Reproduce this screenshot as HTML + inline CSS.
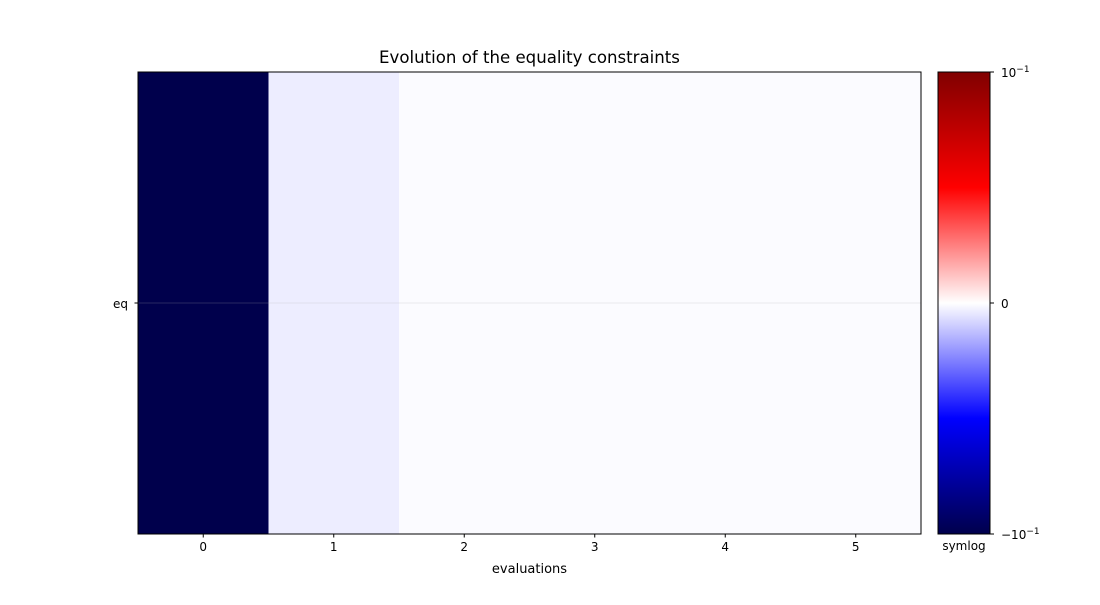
<!DOCTYPE html>
<html><head><meta charset="utf-8"><style>
body{margin:0;background:#fff;}
svg text{font-family:"DejaVu Sans","Liberation Sans",sans-serif;}
</style></head><body>
<svg id="c" width="1100" height="600" xmlns="http://www.w3.org/2000/svg">
<defs>
<linearGradient id="seis" x1="0" y1="1" x2="0" y2="0">
<stop offset="0" stop-color="#00004c"/><stop offset="0.25" stop-color="#0000ff"/>
<stop offset="0.5" stop-color="#ffffff"/><stop offset="0.75" stop-color="#ff0000"/>
<stop offset="1" stop-color="#800000"/>
</linearGradient>
</defs>
<text x="529.5" y="63" font-size="16.6" text-anchor="middle">Evolution of the equality constraints</text>
<g id="cells"></g>
<line x1="138" y1="303" x2="921" y2="303" stroke="#b0b0b0" stroke-opacity="0.3" stroke-width="0.8"/>
<rect x="138" y="72" width="783" height="462" fill="none" stroke="#000" stroke-width="1"/>
<g id="xt"></g>
<line x1="134.5" y1="303" x2="138" y2="303" stroke="#000"/>
<text x="128" y="308" font-size="12" text-anchor="end">eq</text>
<text x="529.5" y="573" font-size="13" text-anchor="middle">evaluations</text>
<rect x="938" y="72" width="52" height="462" fill="url(#seis)" stroke="#000" stroke-width="1"/>
<g id="ct"></g>
<text x="964" y="550" font-size="12" text-anchor="middle">symlog</text>
</svg>
<script>
const categories = ["eq"];
const evaluations = [0, 1, 2, 3, 4, 5];
const eqValues = [-0.1, -0.0035, -0.0008, -0.0008, -0.0008, -0.0008];
const cbarTicks = [-0.1, 0, 0.1];
const cbarBase = ["\u221210", "0", "10"];
const cbarExp = ["\u22121", "", "\u22121"];

const NS = "http://www.w3.org/2000/svg";
const px0 = 138, px1 = 921, py0 = 72, py1 = 534;
const vmin = -0.1, vmax = 0.1;
const xScale = i => px0 + (i + 0.5) * (px1 - px0) / evaluations.length;
const cw = (px1 - px0) / evaluations.length;
const cbY = v => py1 - (v - vmin) / (vmax - vmin) * (py1 - py0);
function seismic(t) {
  t = Math.max(0, Math.min(1, t));
  const st = [[0,[0,0,76]],[0.25,[0,0,255]],[0.5,[255,255,255]],[0.75,[255,0,0]],[1,[128,0,0]]];
  for (let k = 0; k < st.length - 1; k++) {
    const [a, ca] = st[k], [b, cb] = st[k+1];
    if (t <= b) { const f = (t - a) / (b - a); return "rgb(" + ca.map((c, j) => Math.round(c + (cb[j] - c) * f)).join(",") + ")"; }
  }
  return "rgb(128,0,0)";
}
const cells = document.getElementById("cells");
eqValues.forEach((v, i) => {
  const r = document.createElementNS(NS, "rect");
  r.setAttribute("x", xScale(i) - cw / 2); r.setAttribute("y", py0);
  r.setAttribute("width", cw + 0.5); r.setAttribute("height", py1 - py0);
  r.setAttribute("fill", seismic((v - vmin) / (vmax - vmin)));
  
  
  cells.appendChild(r);
});
const xt = document.getElementById("xt");
evaluations.forEach((e, i) => {
  const l = document.createElementNS(NS, "line");
  l.setAttribute("x1", xScale(i)); l.setAttribute("x2", xScale(i));
  l.setAttribute("y1", py1); l.setAttribute("y2", py1 + 3.5); l.setAttribute("stroke", "#000");
  
  
  xt.appendChild(l);
  const t = document.createElementNS(NS, "text");
  t.setAttribute("x", xScale(i)); t.setAttribute("y", py1 + 17);
  t.setAttribute("font-size", "12"); t.setAttribute("text-anchor", "middle");
  t.textContent = e;
  
  
  xt.appendChild(t);
});
const ct = document.getElementById("ct");
cbarTicks.forEach((v, i) => {
  const y = cbY(v);
  const l = document.createElementNS(NS, "line");
  l.setAttribute("x1", 990); l.setAttribute("x2", 994); l.setAttribute("y1", y); l.setAttribute("y2", y);
  l.setAttribute("stroke", "#000");
  
  
  ct.appendChild(l);
  const t = document.createElementNS(NS, "text");
  t.setAttribute("x", 1001); t.setAttribute("y", y + 5); t.setAttribute("font-size", "12");
  t.textContent = cbarBase[i];
  if (cbarExp[i]) {
    const s = document.createElementNS(NS, "tspan");
    s.setAttribute("dy", "-5"); s.setAttribute("font-size", "9");
    s.textContent = cbarExp[i];
    t.appendChild(s);
  }
  
  
  ct.appendChild(t);
});
</script>
</body></html>
